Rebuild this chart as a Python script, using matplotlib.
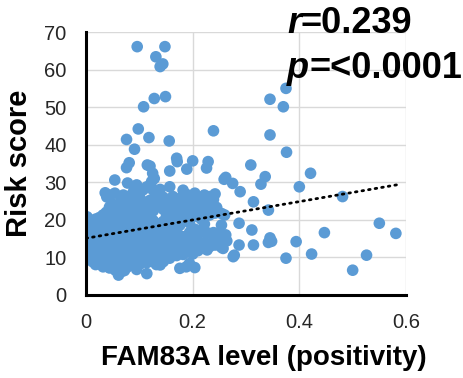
import numpy as np
import matplotlib
matplotlib.use('Agg')
import matplotlib.pyplot as plt

# FAM83A positivity vs risk score, one (positivity, risk) pair per patient
core_points = [
    (0.000, 9.7), (0.000, 12.0), (0.000, 14.6), (0.000, 17.7), (0.002, 20.8),
    (0.005, 10.8), (0.005, 13.2), (0.005, 16.0), (0.005, 19.1),
    (0.012, 8.9), (0.012, 11.0), (0.012, 13.3), (0.012, 15.4), (0.012, 17.6), (0.012, 19.5),
    (0.018, 8.1), (0.018, 10.2), (0.018, 12.4), (0.018, 14.6), (0.018, 16.8), (0.018, 18.9), (0.018, 20.2),
    (0.025, 8.7), (0.025, 11.3), (0.025, 13.6), (0.025, 15.9), (0.025, 17.9), (0.025, 20.6),
    (0.032, 7.5), (0.032, 9.8), (0.032, 12.1), (0.032, 14.3), (0.032, 16.5), (0.032, 18.6), (0.032, 21.3),
    (0.038, 8.3), (0.038, 10.6), (0.038, 13.0), (0.038, 15.2), (0.038, 17.4), (0.038, 19.8), (0.038, 22.0),
    (0.039, 26.1), (0.036, 27.2),
    (0.044, 7.2), (0.044, 9.4), (0.044, 11.7), (0.044, 14.0), (0.044, 16.2), (0.044, 18.4), (0.044, 20.7),
    (0.044, 23.4), (0.044, 26.6),
    (0.050, 8.0), (0.050, 10.3), (0.050, 12.6), (0.050, 14.8), (0.050, 17.1), (0.050, 19.3), (0.050, 21.6),
    (0.050, 24.2),
    (0.055, 6.6), (0.055, 9.2), (0.055, 11.5), (0.055, 13.7), (0.055, 16.0), (0.055, 18.2), (0.055, 20.5),
    (0.055, 22.8), (0.054, 27.1),
    (0.061, 5.3), (0.061, 7.8), (0.061, 10.4), (0.061, 12.7), (0.061, 14.9), (0.061, 17.2), (0.061, 19.4),
    (0.061, 21.8), (0.061, 24.0),
    (0.066, 6.2), (0.066, 9.0), (0.066, 11.3), (0.066, 13.6), (0.066, 15.9), (0.066, 18.1), (0.066, 20.4),
    (0.066, 23.0), (0.066, 25.6),
    (0.072, 6.5), (0.072, 8.2), (0.072, 10.2), (0.072, 12.5), (0.072, 14.8), (0.072, 17.0), (0.072, 19.3),
    (0.072, 21.5), (0.072, 24.4), (0.070, 26.6),
    (0.077, 7.4), (0.077, 9.3), (0.077, 11.4), (0.077, 13.8), (0.077, 16.1), (0.077, 18.3), (0.077, 20.6),
    (0.077, 22.8), (0.077, 25.2),
    (0.083, 8.6), (0.083, 10.8), (0.083, 12.9), (0.083, 15.0), (0.083, 17.3), (0.083, 19.6), (0.083, 21.9),
    (0.083, 24.1), (0.083, 26.4),
    (0.089, 7.9), (0.089, 9.9), (0.089, 12.0), (0.089, 14.2), (0.089, 16.4), (0.089, 18.6), (0.089, 20.9),
    (0.089, 23.3), (0.089, 25.5), (0.089, 27.5),
    (0.095, 6.8), (0.095, 8.8), (0.095, 11.1), (0.095, 13.3), (0.095, 15.5), (0.095, 17.7), (0.095, 19.9),
    (0.095, 22.3), (0.095, 24.5),
    (0.101, 8.2), (0.101, 10.4), (0.101, 12.5), (0.101, 14.7), (0.101, 16.9), (0.101, 19.1), (0.101, 21.2),
    (0.101, 23.6), (0.101, 25.9),
    (0.107, 9.3), (0.107, 11.6), (0.107, 13.8), (0.107, 16.0), (0.107, 18.2), (0.107, 20.3), (0.107, 22.6),
    (0.107, 24.8),
    (0.114, 5.7), (0.114, 8.6), (0.114, 10.6), (0.114, 12.8), (0.114, 15.1), (0.114, 17.3), (0.114, 19.4),
    (0.114, 21.8), (0.114, 24.0),
    (0.120, 9.7), (0.120, 11.9), (0.120, 14.1), (0.120, 16.4), (0.120, 18.5), (0.120, 20.6), (0.120, 23.0),
    (0.120, 25.2),
    (0.126, 8.9), (0.126, 10.9), (0.126, 13.2), (0.126, 15.4), (0.126, 17.7), (0.126, 19.8), (0.126, 22.4),
    (0.132, 8.1), (0.132, 10.2), (0.132, 12.3), (0.132, 14.6), (0.132, 16.8), (0.132, 19.0), (0.132, 23.5),
    (0.132, 25.6),
    (0.139, 8.0), (0.139, 9.6), (0.139, 11.6), (0.139, 13.8), (0.139, 16.0), (0.139, 18.2), (0.139, 24.4),
    (0.145, 8.9), (0.145, 11.0), (0.145, 13.1), (0.145, 15.3), (0.145, 17.4), (0.145, 19.6), (0.145, 22.8),
    (0.145, 26.0),
    (0.151, 10.3), (0.151, 12.4), (0.151, 14.5), (0.151, 16.7), (0.151, 18.9), (0.151, 21.2), (0.151, 25.1),
    (0.157, 9.8), (0.157, 11.8), (0.157, 14.0), (0.157, 16.2), (0.157, 18.3), (0.157, 20.4), (0.157, 22.9),
    (0.157, 24.8),
    (0.163, 10.9), (0.163, 13.1), (0.163, 15.3), (0.163, 17.6), (0.163, 19.9), (0.163, 23.8), (0.163, 26.2),
    (0.170, 10.5), (0.170, 12.3), (0.170, 17.2), (0.170, 19.4), (0.170, 21.6), (0.170, 24.5),
    (0.176, 7.1), (0.176, 11.4), (0.176, 13.5), (0.176, 18.6), (0.176, 22.7), (0.176, 25.7),
    (0.182, 10.8), (0.182, 12.6), (0.182, 15.5), (0.182, 20.0), (0.182, 23.6), (0.182, 27.9),
    (0.188, 7.5), (0.188, 11.7), (0.188, 13.9), (0.188, 21.4), (0.188, 24.8), (0.188, 26.8),
    (0.194, 8.4), (0.194, 12.1), (0.194, 16.6), (0.194, 19.2), (0.194, 22.5),
    (0.200, 10.9), (0.200, 13.0), (0.200, 15.1), (0.200, 23.8), (0.200, 26.0),
    (0.204, 7.3), (0.204, 12.1), (0.204, 17.5), (0.204, 21.0), (0.204, 27.1),
    (0.210, 11.8), (0.210, 14.1), (0.210, 16.4), (0.210, 22.3), (0.210, 25.0),
    (0.216, 13.0), (0.216, 16.8), (0.216, 20.2), (0.216, 24.2),
    (0.222, 14.0), (0.222, 18.9), (0.222, 22.8), (0.222, 26.6),
    (0.227, 12.0), (0.227, 16.6), (0.227, 25.5),
    (0.232, 12.9), (0.232, 21.3), (0.232, 23.4), (0.232, 26.2),
    (0.239, 14.6), (0.239, 16.6), (0.239, 25.4),
    (0.242, 13.3), (0.242, 21.8), (0.242, 26.9),
    (0.245, 16.4), (0.245, 23.3),
    (0.254, 12.7), (0.254, 16.0), (0.254, 18.6), (0.254, 21.7),
    (0.257, 12.4), (0.257, 15.1), (0.260, 14.6), (0.260, 21.3),
]

upper_points = [
    (0.054, 30.6), (0.078, 29.8), (0.095, 29.3), (0.092, 28.3), (0.107, 28.0),
    (0.114, 28.8), (0.126, 27.9), (0.139, 28.1), (0.157, 28.8), (0.123, 30.2),
    (0.076, 33.9), (0.081, 35.2), (0.115, 34.6), (0.120, 34.3), (0.125, 32.4),
    (0.128, 31.0), (0.157, 33.0), (0.170, 36.4), (0.171, 35.5), (0.189, 33.5),
    (0.200, 35.7), (0.229, 35.5), (0.226, 33.8), (0.091, 38.8), (0.076, 41.4),
    (0.118, 41.9), (0.156, 41.0), (0.098, 44.2), (0.239, 43.7), (0.108, 50.1),
    (0.128, 52.3), (0.149, 52.8), (0.139, 60.8), (0.144, 61.5), (0.131, 63.4),
    (0.096, 66.1), (0.148, 66.1),
]

high_points = [
    (0.259, 30.8), (0.262, 31.3), (0.275, 29.7), (0.289, 27.5), (0.309, 34.6),
    (0.314, 24.8), (0.328, 29.5), (0.336, 31.5), (0.342, 22.6), (0.345, 52.1),
    (0.370, 50.1), (0.375, 55.0), (0.345, 42.6), (0.376, 38.0), (0.400, 28.8),
    (0.421, 32.4), (0.481, 26.2), (0.550, 19.1), (0.581, 16.4), (0.526, 10.6),
    (0.500, 6.6), (0.447, 16.6), (0.423, 10.9), (0.394, 14.2), (0.375, 9.8),
    (0.342, 14.0), (0.345, 15.2), (0.348, 14.3), (0.311, 17.3), (0.314, 13.3),
    (0.287, 19.1), (0.287, 13.3), (0.278, 10.6), (0.276, 10.2), (0.262, 16.0),
    (0.264, 14.4),
]

# linear trend line
trend_intercept = 15.1
trend_slope = 24.4
trend_x = [0.0, 0.585]

pts = np.array(core_points + upper_points + high_points)

plt.rcParams['font.family'] = ['Liberation Sans', 'DejaVu Sans']

fig = plt.figure(figsize=(4.63, 3.78), dpi=100)
ax = fig.add_axes([86/463, 1 - 295/378, 320/463, 263/378])

ax.scatter(pts[:, 0], pts[:, 1], s=70, color='#5B9BD5', edgecolors='none', zorder=3)
tx = np.array(trend_x)
ax.plot(tx, trend_intercept + trend_slope*tx, color='black', lw=2.0,
        linestyle=(0, (0.6, 1.8)), dash_capstyle='round', zorder=4)

ax.set_xlim(0, 0.6)
ax.set_ylim(0, 70)
ax.set_xticks([0, 0.2, 0.4, 0.6])
ax.set_xticklabels(['0', '0.2', '0.4', '0.6'])
ax.set_yticks(np.arange(0, 71, 10))
ax.grid(True, color='#D9D9D9', lw=1.0, zorder=0)
ax.set_axisbelow(True)
for s in ['top', 'right']:
    ax.spines[s].set_visible(False)
for s in ['left', 'bottom']:
    ax.spines[s].set_linewidth(2.2)
    ax.spines[s].set_color('black')
    ax.spines[s].set_zorder(5)
ax.tick_params(axis='both', length=0, labelsize=14.5, labelcolor='#262626')
ax.tick_params(axis='y', pad=14)
ax.tick_params(axis='x', pad=13)

fig.text(19/463, 1 - 163/378, 'Risk score', rotation=90, ha='center', va='center',
         fontsize=21, fontweight='bold')
fig.text(264/463, 1 - 358/378, 'FAM83A level (positivity)', ha='center', va='center',
         fontsize=20, fontweight='bold')

# statistics, italic symbol followed by upright value
r_txt = fig.text(287/463, 1 - 33/378, 'r', fontsize=26, fontweight='bold', style='italic',
                 va='baseline')
ax.annotate('=0.239', xy=(1, 0), xycoords=r_txt, va='bottom', ha='left',
            fontsize=26, fontweight='bold', annotation_clip=False)
p_txt = fig.text(287/463, 1 - 78/378, 'p', fontsize=26, fontweight='bold', style='italic',
                 va='baseline')
ax.annotate('=<0.0001', xy=(1, 0), xycoords=p_txt, va='bottom', ha='left',
            fontsize=26, fontweight='bold', annotation_clip=False)

fig.savefig('out.png', dpi=100)
